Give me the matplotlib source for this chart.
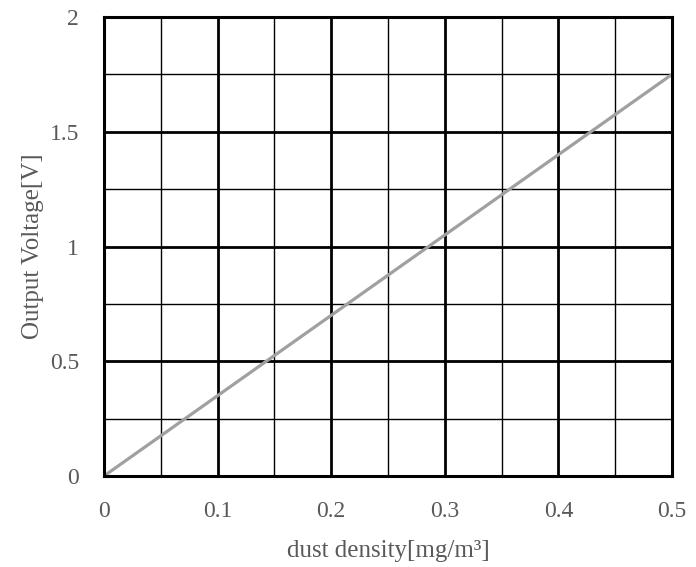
import numpy as np
import matplotlib.pyplot as plt
from matplotlib.ticker import MultipleLocator

# 数据
density = [0.0, 0.5]
voltage = [0.0, 1.75]
x_ticks = [0, 0.1, 0.2, 0.3, 0.4, 0.5]
x_labels = ["0", "0.1", "0.2", "0.3", "0.4", "0.5"]
y_ticks = [0, 0.5, 1, 1.5, 2]
y_labels = ["0", "0.5", "1", "1.5", "2"]


def main():
    plt.rcParams['font.family'] = ['Liberation Serif', 'DejaVu Serif']
    text_color = '#595959'

    fig = plt.figure(figsize=(6.96, 5.67), dpi=100)
    ax = fig.add_axes([0.1494, 0.1605, 0.8161, 0.8095])

    ax.set_xlim(0, 0.5)
    ax.set_ylim(0, 2)

    # 网格：主线粗，次线细
    ax.xaxis.set_minor_locator(MultipleLocator(0.05))
    ax.yaxis.set_minor_locator(MultipleLocator(0.25))
    ax.grid(which='major', color='black', linewidth=2.0)
    ax.grid(which='minor', color='black', linewidth=1.0)
    ax.set_axisbelow(True)

    ax.plot(density, voltage, color='#a0a0a0', linewidth=2.3, zorder=3,
            solid_capstyle='butt')

    ax.set_xticks(x_ticks)
    ax.set_xticklabels(x_labels)
    ax.set_yticks(y_ticks)
    ax.set_yticklabels(y_labels)
    ax.tick_params(which='both', length=0, labelsize=17, labelcolor=text_color)
    ax.tick_params(axis='x', pad=18)
    ax.tick_params(axis='y', pad=18)

    for side in ['top', 'right', 'left', 'bottom']:
        ax.spines[side].set_color('black')
        ax.spines[side].set_linewidth(2.2)
        ax.spines[side].set_zorder(4)

    ax.set_xlabel('dust density[mg/m³]', fontsize=18, color=text_color,
                  labelpad=13)
    ax.set_ylabel('Output Voltage[V]', fontsize=18, color=text_color,
                  labelpad=4)

    fig.savefig('out.png', dpi=100)


if __name__ == "__main__":
    main()
